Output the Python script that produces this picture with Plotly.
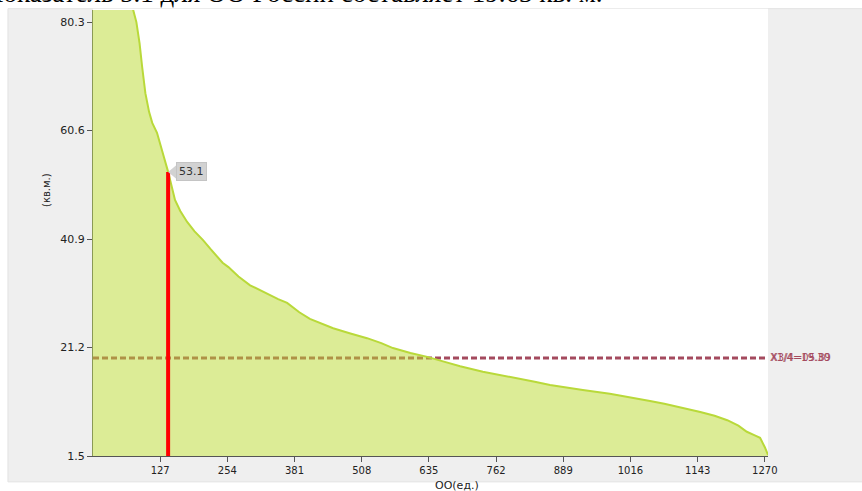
import plotly.graph_objects as go

# ---- data ----
org_index = [0, 10, 25, 45, 60, 70, 76, 82, 88, 93, 99, 106, 112, 121, 128, 134, 142, 148, 155, 165,
             178, 192, 208, 222, 235, 245, 256, 275, 297, 315, 335, 350, 367, 390, 410, 430, 454,
             485, 518, 545, 567, 600, 632, 665, 694, 737, 770, 802, 835, 864, 895, 926, 977, 1015,
             1053, 1080, 1110, 1148, 1175, 1199, 1220, 1236, 1250, 1261, 1270, 1276]
area_value = [260, 180, 130, 105, 92, 86, 82.5, 80.3, 76.5, 72.1, 67.4, 64.0, 62.0, 60.2, 58.0, 55.8,
              53.1, 50.5, 48.0, 46.0, 44.0, 42.3, 40.7, 39.1, 37.6, 36.6, 35.8, 34.1, 32.5, 31.6,
              30.7, 30.0, 29.3, 27.6, 26.4, 25.6, 24.7, 23.8, 22.9, 22.0, 21.1, 20.2, 19.5, 18.6,
              17.8, 16.8, 16.2, 15.7, 15.0, 14.4, 13.9, 13.5, 12.8, 12.2, 11.5, 11.0, 10.4, 9.5,
              8.8, 8.0, 7.0, 5.9, 5.3, 4.8, 3.1, 1.7]

marker_index = 142
marker_value = 53.1

ref_values = [19.30, 19.30]
ref_labels = ["X1/4=19.30", "X3/4=05.89"]

x_ticks = [127, 254, 381, 508, 635, 762, 889, 1016, 1143, 1270]
y_ticks = [1.5, 21.2, 40.9, 60.6, 80.3]

page_text = "Показатель 5.1 для ОО России составляет 19.63 кв. м."
x_title = "ОО(ед.)"
y_title = "(кв.м.)"

maroon = "#a44a5e"

fig = go.Figure()

fig.add_trace(go.Scatter(
    x=org_index, y=area_value, mode="lines",
    line=dict(color="#b9d93a", width=2),
    fill="tozeroy", fillcolor="rgba(185,217,45,0.5)",
    hoverinfo="skip", showlegend=False,
))

fig.add_trace(go.Scatter(
    x=[marker_index, marker_index], y=[1.5, marker_value], mode="lines",
    line=dict(color="#ff0000", width=4), showlegend=False, hoverinfo="skip",
))

shapes = [
    # grey panel
    dict(type="rect", xref="paper", yref="paper", x0=-0.126, x1=1.2, y0=-0.058, y1=1.003,
         fillcolor="#efefef", line=dict(color="#e2e2e2", width=1), layer="below"),
    # white plot area
    dict(type="rect", xref="paper", yref="paper", x0=0, x1=1, y0=0, y1=1.003,
         fillcolor="#ffffff", line=dict(width=0), layer="below"),
]
for v in ref_values[:1]:
    shapes.append(dict(type="line", xref="paper", yref="y", x0=0, x1=1, y0=v, y1=v,
                       line=dict(color=maroon, width=3, dash="6px,3px"), layer="below"))
# callout pointer
shapes.append(dict(type="path", xref="x", yref="y", xsizemode="pixel", ysizemode="pixel",
                   xanchor=marker_index, yanchor=marker_value,
                   path="M0,0 L9,-7.5 L9,7.5 Z", fillcolor="#d2d2d2", line=dict(width=0)))
fig.update_layout(shapes=shapes)

annotations = [
    dict(x=marker_index, y=marker_value, xref="x", yref="y", text=str(marker_value),
         showarrow=False, xanchor="left", yanchor="middle", xshift=8,
         bgcolor="#d2d2d2", bordercolor="#c4c4c4", borderwidth=1, borderpad=2,
         font=dict(family="DejaVu Sans", size=11, color="#333333")),
    dict(x=-0.165, y=1.0, xref="paper", yref="paper", text=page_text, showarrow=False,
         xanchor="left", yanchor="bottom",
         font=dict(family="Liberation Serif", size=27, color="#000000")),
    dict(x=-0.081, y=0.596, xref="paper", yref="paper", text=y_title, showarrow=False,
         textangle=-90, font=dict(family="DejaVu Sans", size=10, color="#222222")),
    dict(x=0.539, y=-0.067, xref="paper", yref="paper", text=x_title, showarrow=False,
         yanchor="middle", font=dict(family="DejaVu Sans", size=11, color="#222222")),
]
for i, (v, lab) in enumerate(zip(ref_values, ref_labels)):
    annotations.append(dict(x=1.0, y=v, xref="paper", yref="y", text=lab, showarrow=False,
                            xanchor="left", yanchor="middle", xshift=0 + i,
                            font=dict(family="DejaVu Sans", size=10, color=maroon)))
fig.update_layout(annotations=annotations)

fig.update_layout(
    width=862, height=491,
    margin=dict(l=93, r=94, t=10, b=35),
    paper_bgcolor="#ffffff", plot_bgcolor="rgba(0,0,0,0)",
    showlegend=False,
    xaxis=dict(range=[0, 1276], tickvals=x_ticks, ticktext=[str(t) for t in x_ticks],
               showgrid=False, zeroline=False, showline=True, linecolor="#555555",
               ticks="outside", ticklen=5, tickcolor="#555555",
               tickfont=dict(family="DejaVu Sans", size=10, color="#222222")),
    yaxis=dict(range=[1.5, 82.5], tickvals=y_ticks, ticktext=[str(t) for t in y_ticks],
               showgrid=False, zeroline=False, showline=True, linecolor="#8a9a55",
               ticks="outside", ticklen=5, tickcolor="#555555",
               tickfont=dict(family="DejaVu Sans", size=11, color="#222222")),
)

fig.write_html("out.html", config={"displayModeBar": False},
               post_script="document.body.style.margin='0';document.body.style.overflow='hidden';")
